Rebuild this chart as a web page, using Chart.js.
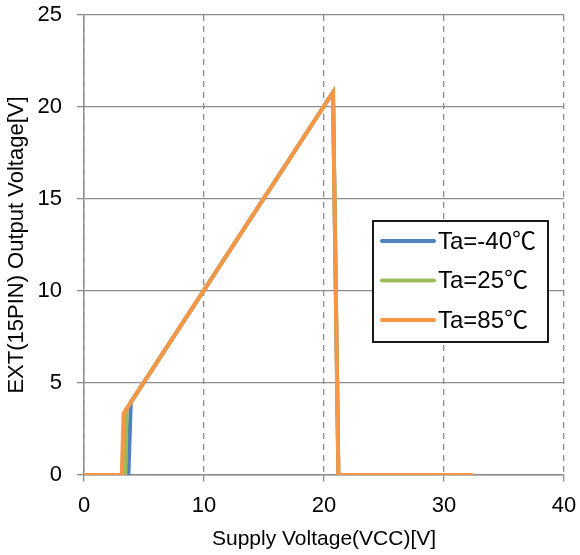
<!DOCTYPE html>
<html>
<head>
<meta charset="utf-8">
<script src="https://cdn.jsdelivr.net/npm/chart.js@4/dist/chart.umd.min.js"></script>
<style>
html,body{margin:0;padding:0;background:#fff;}
#wrap{width:580px;height:555px;position:relative;}
</style>
</head>
<body>
<div id="wrap"><canvas id="c" width="580" height="555"></canvas></div>
<script>
// Data
const seriesLabels = ['Ta=-40℃', 'Ta=25℃', 'Ta=85℃'];
const seriesColors = ['#4F81BD', '#9BBB59', '#F79646'];
const xMinus40 = [0, 3.7, 3.9, 20.75, 21.2, 32.4];
const yMinus40 = [0, 0, 3.95, 20.8, 0, 0];
const x25 = [0, 3.45, 3.55, 20.75, 21.2, 32.4];
const y25 = [0, 0, 3.6, 20.8, 0, 0];
const x85 = [0, 3.15, 3.3, 20.75, 21.2, 32.4];
const y85 = [0, 0, 3.35, 20.8, 0, 0];
const xTicks = [0, 10, 20, 30, 40];
const yTicks = [0, 5, 10, 15, 20, 25];

const xs = [xMinus40, x25, x85];
const ys = [yMinus40, y25, y85];

const FONT = '"Liberation Sans", Arial, "Noto Sans CJK JP", sans-serif';
const GRID = '#8c8c8c';

const datasets = seriesLabels.map((lab, i) => ({
  label: lab,
  data: xs[i].map((x, j) => ({x: x, y: ys[i][j]})),
  borderColor: seriesColors[i],
  backgroundColor: seriesColors[i],
  borderWidth: 4,
  pointRadius: 0,
  fill: false,
  tension: 0,
  order: 3 - i,
  borderJoinStyle: 'miter'
}));

const legendBox = {
  id: 'legendBox',
  afterDatasetsDraw(chart) {
    const ctx = chart.ctx;
    const a = chart.chartArea;
    const bx = a.left + 289, by = a.top + 206, bw = 175, bh = 121;
    ctx.save();
    ctx.fillStyle = '#fff';
    ctx.fillRect(bx, by, bw, bh);
    ctx.strokeStyle = '#000';
    ctx.lineWidth = 1.8;
    ctx.strokeRect(bx, by, bw, bh);
    ctx.font = '24px ' + FONT;
    ctx.textBaseline = 'middle';
    ctx.textAlign = 'left';
    chart.data.datasets.forEach((ds, i) => {
      const y = by + 20 + i * 39.5;
      ctx.strokeStyle = ds.borderColor;
      ctx.lineWidth = 4;
      ctx.lineCap = 'round';
      ctx.beginPath();
      ctx.moveTo(bx + 9, y);
      ctx.lineTo(bx + 61, y);
      ctx.stroke();
      ctx.fillStyle = '#000';
      ctx.fillText(ds.label, bx + 65, y + 1);
    });
    ctx.restore();
  }
};

new Chart(document.getElementById('c'), {
  type: 'line',
  data: { datasets: datasets },
  options: {
    responsive: false,
    animation: false,
    events: [],
    layout: { padding: { left: 0, right: 16, top: 15, bottom: 0 } },
    plugins: { legend: { display: false }, tooltip: { enabled: false } },
    scales: {
      x: {
        type: 'linear',
        min: 0, max: 40,
        afterFit(s) { s.height = 80; s.paddingLeft = 0; s.paddingRight = 0; },
        afterBuildTicks(s) { s.ticks = xTicks.map(v => ({value: v})); },
        ticks: { color: '#000', font: { family: FONT, size: 22 }, padding: 11, maxRotation: 0 },
        grid: { color: GRID, lineWidth: 1.3, tickLength: 7, tickColor: GRID, tickBorderDash: [6, 5] },
        border: { display: true, color: GRID, width: 1.5, dash: [6, 5] },
        title: { display: true, text: 'Supply Voltage(VCC)[V]', color: '#000', font: { family: FONT, size: 21 }, padding: { top: 0, bottom: 3 } }
      },
      y: {
        type: 'linear',
        min: 0, max: 25,
        afterFit(s) { s.width = 84; s.paddingTop = 0; s.paddingBottom = 0; },
        afterBuildTicks(s) { s.ticks = yTicks.map(v => ({value: v})); },
        ticks: { color: '#000', font: { family: FONT, size: 22 }, padding: 15 },
        grid: { color: GRID, lineWidth: 1.3, tickLength: 7, tickColor: GRID },
        border: { display: true, color: GRID, width: 1.5 },
        title: { display: true, text: 'EXT(15PIN) Output Voltage[V]', color: '#000', font: { family: FONT, size: 22 }, padding: { top: 4, bottom: 0 } }
      }
    }
  },
  plugins: [legendBox]
});
</script>
</body>
</html>
